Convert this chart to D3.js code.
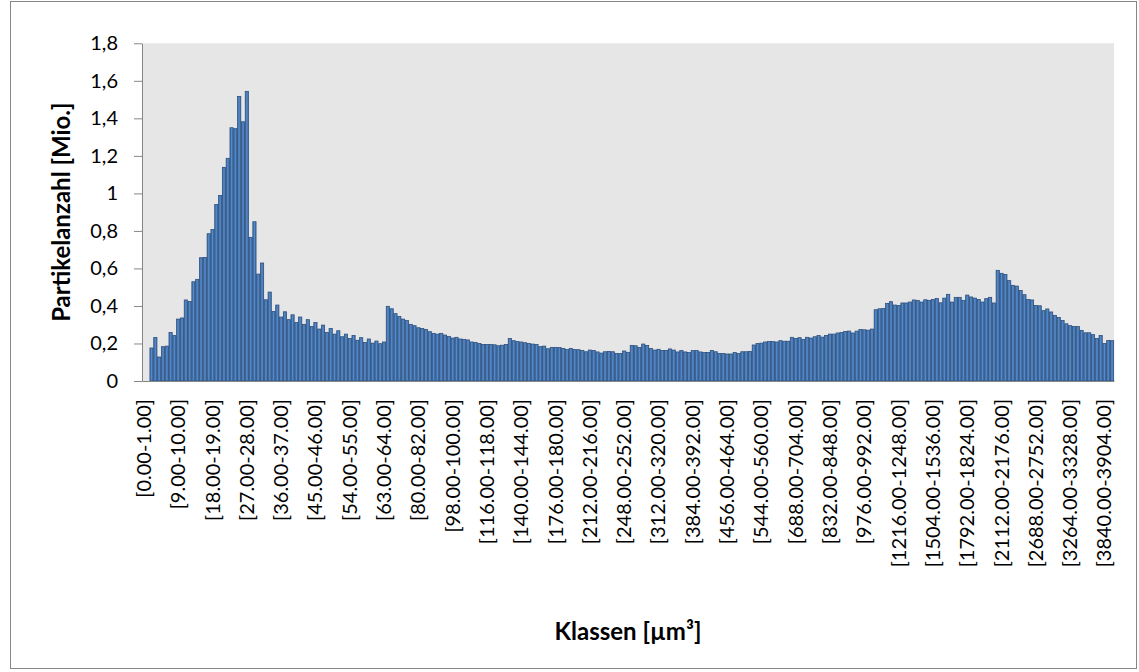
<!DOCTYPE html>
<html><head><meta charset="utf-8">
<script src="https://cdn.jsdelivr.net/npm/d3@7"></script>
<style>
html,body{margin:0;padding:0;background:#fff;}
svg{display:block;}
</style></head>
<body>
<svg id="chart" width="1139" height="672"></svg>
<script>
// class groups: [start, width, count]
const binGroups = [[0,1,64],[64,2,32],[128,4,32],[256,8,32],[512,16,32],[1024,32,32],[2048,64,31]];
const categories = [];
binGroups.forEach(([s, w, n]) => {
  for (let i = 0; i < n; i++) {
    const a = s + i * w;
    categories.push(`[${a.toFixed(2)}-${(a + w).toFixed(2)}]`);
  }
});

const values = [
  0, 0, 0.176, 0.232, 0.128, 0.183, 0.186, 0.259, 0.243, 0.33,
  0.336, 0.432, 0.424, 0.529, 0.542, 0.657, 0.659, 0.785, 0.807, 0.941,
  0.989, 1.139, 1.187, 1.35, 1.345, 1.517, 1.382, 1.544, 0.766, 0.849,
  0.57, 0.629, 0.433, 0.474, 0.371, 0.405, 0.341, 0.369, 0.327, 0.353,
  0.312, 0.341, 0.302, 0.327, 0.291, 0.312, 0.277, 0.298, 0.259, 0.28,
  0.25, 0.268, 0.236, 0.25, 0.227, 0.243, 0.217, 0.231, 0.206, 0.224,
  0.202, 0.213, 0.199, 0.208, 0.398, 0.385, 0.359, 0.344, 0.33, 0.322,
  0.302, 0.295, 0.284, 0.28, 0.275, 0.263, 0.254, 0.25, 0.254, 0.245,
  0.238, 0.229, 0.233, 0.224, 0.222, 0.219, 0.208, 0.206, 0.2, 0.195,
  0.195, 0.195, 0.193, 0.188, 0.191, 0.195, 0.227, 0.215, 0.21, 0.208,
  0.204, 0.2, 0.197, 0.195, 0.183, 0.186, 0.172, 0.179, 0.179, 0.178,
  0.174, 0.168, 0.174, 0.168, 0.167, 0.163, 0.156, 0.165, 0.163, 0.155,
  0.149, 0.156, 0.158, 0.156, 0.146, 0.146, 0.16, 0.153, 0.19, 0.188,
  0.179, 0.197, 0.19, 0.174, 0.165, 0.169, 0.163, 0.163, 0.171, 0.165,
  0.155, 0.163, 0.155, 0.152, 0.162, 0.162, 0.155, 0.152, 0.152, 0.163,
  0.156, 0.147, 0.146, 0.144, 0.144, 0.152, 0.146, 0.156, 0.156, 0.158,
  0.192, 0.2, 0.202, 0.208, 0.21, 0.21, 0.208, 0.215, 0.212, 0.212,
  0.233, 0.227, 0.231, 0.222, 0.233, 0.229, 0.236, 0.243, 0.234, 0.243,
  0.25, 0.25, 0.256, 0.258, 0.264, 0.266, 0.256, 0.266, 0.275, 0.273,
  0.271, 0.277, 0.38, 0.385, 0.387, 0.414, 0.423, 0.405, 0.403, 0.416,
  0.416, 0.421, 0.432, 0.43, 0.421, 0.433, 0.43, 0.435, 0.44, 0.417,
  0.442, 0.462, 0.421, 0.446, 0.446, 0.43, 0.458, 0.448, 0.442, 0.435,
  0.421, 0.439, 0.446, 0.416, 0.59, 0.574, 0.568, 0.535, 0.51, 0.506,
  0.483, 0.46, 0.435, 0.432, 0.403, 0.401, 0.375, 0.384, 0.368, 0.35,
  0.339, 0.323, 0.305, 0.295, 0.291, 0.29, 0.27, 0.257, 0.257, 0.247,
  0.227, 0.243, 0.2, 0.216, 0.215
];

const tickLabels = [
  "[0.00-1.00]", "[9.00-10.00]", "[18.00-19.00]", "[27.00-28.00]", "[36.00-37.00]",
  "[45.00-46.00]", "[54.00-55.00]", "[63.00-64.00]", "[80.00-82.00]", "[98.00-100.00]",
  "[116.00-118.00]", "[140.00-144.00]", "[176.00-180.00]", "[212.00-216.00]", "[248.00-252.00]",
  "[312.00-320.00]", "[384.00-392.00]", "[456.00-464.00]", "[544.00-560.00]", "[688.00-704.00]",
  "[832.00-848.00]", "[976.00-992.00]", "[1216.00-1248.00]", "[1504.00-1536.00]", "[1792.00-1824.00]",
  "[2112.00-2176.00]", "[2688.00-2752.00]", "[3264.00-3328.00]", "[3840.00-3904.00]"
];
const yTicks = [0, 0.2, 0.4, 0.6, 0.8, 1, 1.2, 1.4, 1.6, 1.8];

const yTitle = "Partikelanzahl [Mio.]";
const xTitle = "Klassen [µm³]";

const svg = d3.select("#chart");
const FONT = "Lato, 'Open Sans', sans-serif";
const axisColor = "#868686";

// outer chart frame
svg.append("rect")
  .attr("x", 10.5).attr("y", 1.5).attr("width", 1126).attr("height", 667)
  .attr("fill", "#fff").attr("stroke", axisColor).attr("stroke-width", 1);

const plot = {left: 142, right: 1114, top: 43.3, bottom: 381};

svg.append("rect")
  .attr("x", plot.left).attr("y", plot.top)
  .attr("width", plot.right - plot.left).attr("height", plot.bottom - plot.top)
  .attr("fill", "#E6E6E6");

const x = d3.scaleBand().domain(categories).range([plot.left, plot.right]).padding(0);
const y = d3.scaleLinear().domain([0, 1.8]).range([plot.bottom, plot.top]);

// gradient for bars
const defs = svg.append("defs");
const grad = defs.append("linearGradient").attr("id", "barGrad")
  .attr("x1", "0%").attr("x2", "100%").attr("y1", "0%").attr("y2", "0%");
grad.append("stop").attr("offset", "0%").attr("stop-color", "#3A6BA5");
grad.append("stop").attr("offset", "50%").attr("stop-color", "#568AC8");
grad.append("stop").attr("offset", "100%").attr("stop-color", "#3A6BA5");

svg.append("g").selectAll("rect")
  .data(values.map((v, i) => ({cat: categories[i], v})))
  .join("rect")
  .attr("x", d => x(d.cat) + 0.3)
  .attr("width", x.bandwidth() - 0.6)
  .attr("y", d => y(d.v))
  .attr("height", d => y(0) - y(d.v))
  .attr("fill", "url(#barGrad)")
  .attr("stroke", "#284C7C")
  .attr("stroke-width", 0.75);

// Y axis
const yAxis = d3.axisLeft(y).tickValues(yTicks)
  .tickSize(8).tickSizeOuter(0).tickPadding(16)
  .tickFormat(d => d3.format("~g")(d).replace(".", ","));
const gy = svg.append("g").attr("transform", `translate(${plot.left},0)`).call(yAxis);
gy.selectAll("path, line").attr("stroke", axisColor);
gy.selectAll("text").attr("font-family", FONT).attr("font-size", 20).attr("fill", "#000");

// X axis
const xAxis = d3.axisBottom(x).tickValues(tickLabels).tickSize(0).tickSizeOuter(0).tickPadding(0);
const gx = svg.append("g").attr("transform", `translate(0,${plot.bottom})`).call(xAxis);
gx.selectAll("path").attr("stroke", axisColor);
gx.selectAll("text")
  .attr("font-family", FONT).attr("font-size", 20).attr("fill", "#000")
  .attr("text-anchor", "end")
  .attr("transform", "translate(0,18) rotate(-90)")
  .attr("x", 0).attr("y", 0).attr("dy", "0.35em");

// Titles
svg.append("text")
  .attr("transform", `translate(62,${(plot.top + plot.bottom) / 2}) rotate(-90)`)
  .attr("text-anchor", "middle").attr("dy", "0.35em")
  .attr("font-family", FONT).attr("font-weight", "bold").attr("font-size", 24)
  .text(yTitle);

svg.append("text")
  .attr("x", (plot.left + plot.right) / 2).attr("y", 632)
  .attr("text-anchor", "middle").attr("dy", "0.35em")
  .attr("font-family", FONT).attr("font-weight", "bold").attr("font-size", 24)
  .text(xTitle);
</script>
</body></html>
